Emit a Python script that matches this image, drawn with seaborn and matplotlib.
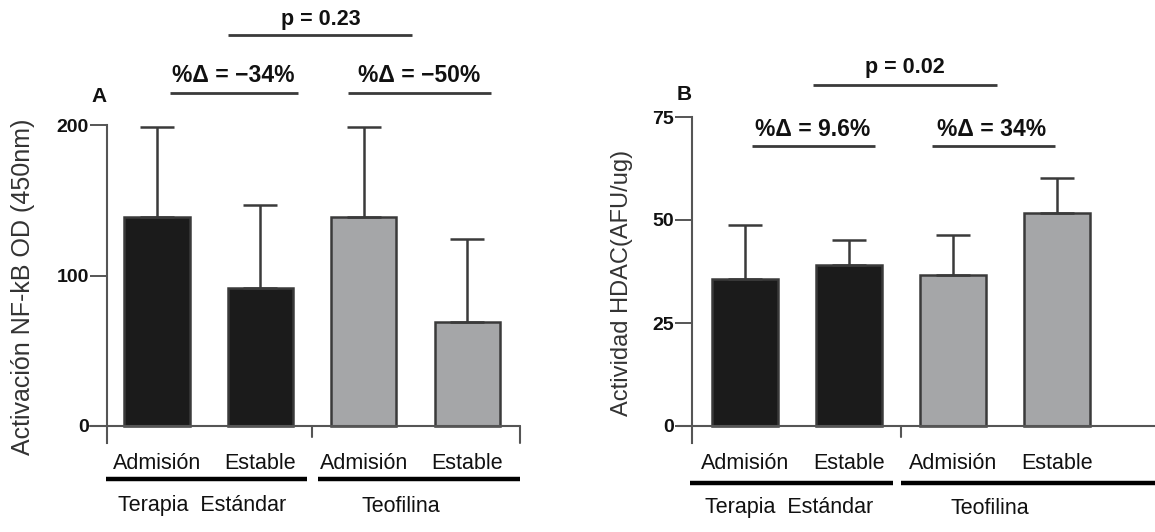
import numpy as np
import pandas as pd
import matplotlib
matplotlib.use("Agg")
import matplotlib.pyplot as plt
from matplotlib.lines import Line2D
import seaborn as sns

# ---- data ----
claves = ["TE-Admisión", "TE-Estable", "TF-Admisión", "TF-Estable"]
etiquetas = ["Admisión", "Estable", "Admisión", "Estable"]
grupos = ["Terapia  Estándar", "Teofilina"]

nfkb_media = [139, 92, 139, 69]
nfkb_de = [60, 55, 60, 55]

hdac_media = [35.7, 39.1, 36.6, 51.7]
hdac_de = [13.1, 6.0, 9.8, 8.5]

nfkb_ticks = [0, 100, 200]
hdac_ticks = [0, 25, 50, 75]

delta_a = ["%Δ = −34%", "%Δ = −50%"]
delta_b = ["%Δ = 9.6%", "%Δ = 34%"]
p_a = "p = 0.23"
p_b = "p = 0.02"

# ---- style ----
sns.set_theme(style="white")
plt.rcParams["font.family"] = ["Liberation Sans", "DejaVu Sans"]

W, H = 1155, 532
fig = plt.figure(figsize=(W / 100, H / 100), dpi=100)

NEGRO = "#1b1b1b"
GRIS = "#a5a6a8"
LINEA = "#3a3a3a"
paleta = {claves[0]: NEGRO, claves[1]: NEGRO, claves[2]: GRIS, claves[3]: GRIS}


def fx(px):
    return px / W


def fy(py):
    return 1 - py / H


def hline(x0, x1, y, lw=2.0, color=LINEA):
    fig.add_artist(Line2D([fx(x0), fx(x1)], [fy(y), fy(y)], transform=fig.transFigure,
                          color=color, lw=lw, solid_capstyle="butt"))


def panel(left, right, top, bottom, zero_px, media, de, ticks, ymax, tick_px):
    ax = fig.add_axes([fx(left), fy(bottom), fx(right) - fx(left), fy(top) - fy(bottom)])
    df = pd.DataFrame({"clave": claves, "valor": media})
    sns.barplot(data=df, x="clave", y="valor", hue="clave", palette=paleta,
                order=claves, width=0.63, edgecolor=LINEA, linewidth=1.8,
                legend=False, ax=ax)
    ax.errorbar(np.arange(4), media, yerr=[np.zeros(4), de], fmt="none",
                ecolor=LINEA, elinewidth=1.8, capsize=12, capthick=1.8, zorder=3)
    # y range so that 0 sits at zero_px and ymax at top
    per_px = ymax / (zero_px - top)
    ylow = -(bottom - zero_px) * per_px
    ax.set_ylim(ylow, ymax)
    ax.set_yticks(ticks)
    ax.set_yticklabels([str(t) for t in ticks], fontsize=14, fontweight="bold", color="#111")
    ax.set_xticks(range(4))
    ax.set_xticklabels(etiquetas, fontsize=15.5, color="#111")
    ax.tick_params(axis="x", length=0, pad=7)
    ax.tick_params(axis="y", length=12, width=1.4, color="#555", direction="out", pad=1, left=True)
    for s in ["top", "right", "bottom"]:
        ax.spines[s].set_visible(False)
    ax.spines["left"].set_color("#555")
    ax.spines["left"].set_linewidth(1.5)
    ax.set_xlabel("")
    ax.set_ylabel("")
    ax.set_facecolor("none")
    # baseline from the zero tick to the right edge
    ext = -(tick_px) / (right - left)
    ax.plot([ext, 1], [0, 0], transform=ax.get_yaxis_transform(), color="#555",
            lw=1.5, clip_on=False, zorder=1)
    # group separator tick
    ax.plot([1.5, 1.5], [0, ylow * 0.65], color="#555", lw=1.5, clip_on=False)
    return ax, ylow


# ---- panel A ----
axA, lowA = panel(107, 520, 125, 443, 426, nfkb_media, nfkb_de, nfkb_ticks, 200, 17)
axA.plot([1, 1], [0, lowA], transform=axA.get_yaxis_transform(), color="#555", lw=1.5, clip_on=False)
axA.set_xlim(-0.484, 3.51)

fig.text(fx(23), fy(287), "Activación NF-kB OD (450nm)", rotation=90, ha="center",
         va="center", fontsize=18, color="#333")
fig.text(fx(99), fy(97), "A", ha="center", va="center", fontsize=15, fontweight="bold", color="#111")

fig.text(fx(321), fy(20), p_a, ha="center", va="center", fontsize=15.5, fontweight="bold", color="#111")
hline(228, 412, 35)
fig.text(fx(233), fy(75), delta_a[0], ha="center", va="center", fontsize=16.5, fontweight="bold", color="#111")
hline(170, 298, 93)
fig.text(fx(419), fy(75), delta_a[1], ha="center", va="center", fontsize=16.5, fontweight="bold", color="#111")
hline(348, 491, 93)

hline(106, 307, 479, lw=3.2, color="#000")
hline(318, 520, 479, lw=3.2, color="#000")
fig.text(fx(202), fy(506), grupos[0], ha="center", va="center", fontsize=15.5, color="#111")
fig.text(fx(401), fy(506), grupos[1], ha="center", va="center", fontsize=15.5, color="#111")

# ---- panel B ----
axB, lowB = panel(692, 1160, 117, 443, 426, hdac_media, hdac_de, hdac_ticks, 75, 15)
axB.set_xlim(-0.51, 3.99)

fig.text(fx(622), fy(283), "Actividad HDAC(AFU/ug)", rotation=90, ha="center",
         va="center", fontsize=17, color="#333")
fig.text(fx(684), fy(95), "B", ha="center", va="center", fontsize=15, fontweight="bold", color="#111")

fig.text(fx(905), fy(68), p_b, ha="center", va="center", fontsize=15.5, fontweight="bold", color="#111")
hline(813, 997, 85)
fig.text(fx(813), fy(130), delta_b[0], ha="center", va="center", fontsize=16.5, fontweight="bold", color="#111")
hline(752, 875, 146)
fig.text(fx(992), fy(130), delta_b[1], ha="center", va="center", fontsize=16.5, fontweight="bold", color="#111")
hline(932, 1055, 146)

hline(690, 893, 483, lw=3.2, color="#000")
hline(901, 1155, 483, lw=3.2, color="#000")
fig.text(fx(789), fy(508), grupos[0], ha="center", va="center", fontsize=15.5, color="#111")
fig.text(fx(990), fy(508), grupos[1], ha="center", va="center", fontsize=15.5, color="#111")

fig.savefig("out.png", dpi=100, facecolor="white")
